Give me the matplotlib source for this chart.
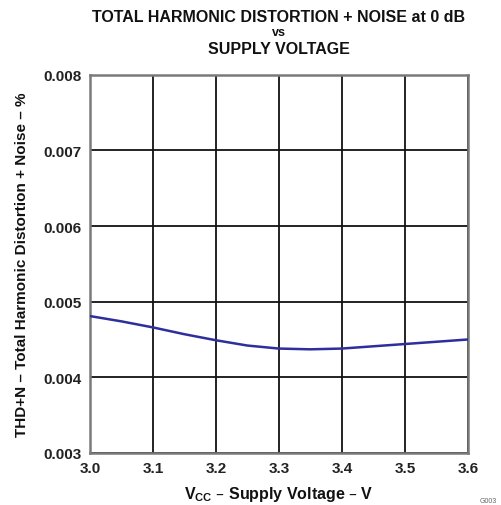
import numpy as np
import matplotlib.pyplot as plt

plt.rcParams['font.family'] = ['Liberation Sans', 'DejaVu Sans']

# THD+N at 0 dB read along supply voltage
vcc = [3.0, 3.05, 3.1, 3.15, 3.2, 3.25, 3.3, 3.35, 3.4, 3.45, 3.5, 3.55, 3.6]
thdn = [0.00481, 0.00474, 0.00466, 0.00457, 0.00449, 0.00442, 0.00438,
        0.00437, 0.00438, 0.00441, 0.00444, 0.00447, 0.00450]

xticks = [3.0, 3.1, 3.2, 3.3, 3.4, 3.5, 3.6]
yticks = [0.003, 0.004, 0.005, 0.006, 0.007, 0.008]

fig = plt.figure(figsize=(5.02, 5.06), dpi=100)
ax = fig.add_axes([0.179, 0.103, 0.753, 0.747])

ax.plot(vcc, thdn, color='#2e2e9c', lw=1.8, zorder=3)

ax.set_xlim(3.0, 3.6)
ax.set_ylim(0.003, 0.008)
ax.set_xticks(xticks)
ax.set_yticks(yticks)
ax.set_xticklabels(['%.1f' % v for v in xticks])
ax.set_yticklabels(['%.3f' % v for v in yticks])
ax.tick_params(length=0, pad=6, labelsize=11, labelcolor='#222222')
for lab in ax.get_xticklabels() + ax.get_yticklabels():
    lab.set_fontweight('bold')

ax.grid(True, color='#111111', lw=1.3)
for s in ax.spines.values():
    s.set_color('#7a7a7a')
    s.set_linewidth(1.8)

# three-line heading, middle "vs" in a smaller size
cx = 0.555
fig.text(cx, 0.966, 'TOTAL HARMONIC DISTORTION + NOISE at 0 dB', ha='center',
         va='center', fontsize=11.5, fontweight='bold', color='#111111')
fig.text(cx, 0.934, 'vs', ha='center', va='center', fontsize=9,
         fontweight='bold', color='#111111')
fig.text(cx, 0.903, 'SUPPLY VOLTAGE', ha='center', va='center',
         fontsize=11.5, fontweight='bold', color='#111111')

ax.set_xlabel(r'V$_{\mathregular{CC}}$ – Supply Voltage – V', fontsize=11.5,
              fontweight='bold', labelpad=6, color='#111111')
ax.set_ylabel('THD+N – Total Harmonic Distortion + Noise – %', fontsize=11,
              fontweight='bold', labelpad=10, color='#111111')

fig.text(0.955, 0.001, 'G003', fontsize=5, color='#666666', va='bottom')

fig.savefig('out.png', dpi=100)
